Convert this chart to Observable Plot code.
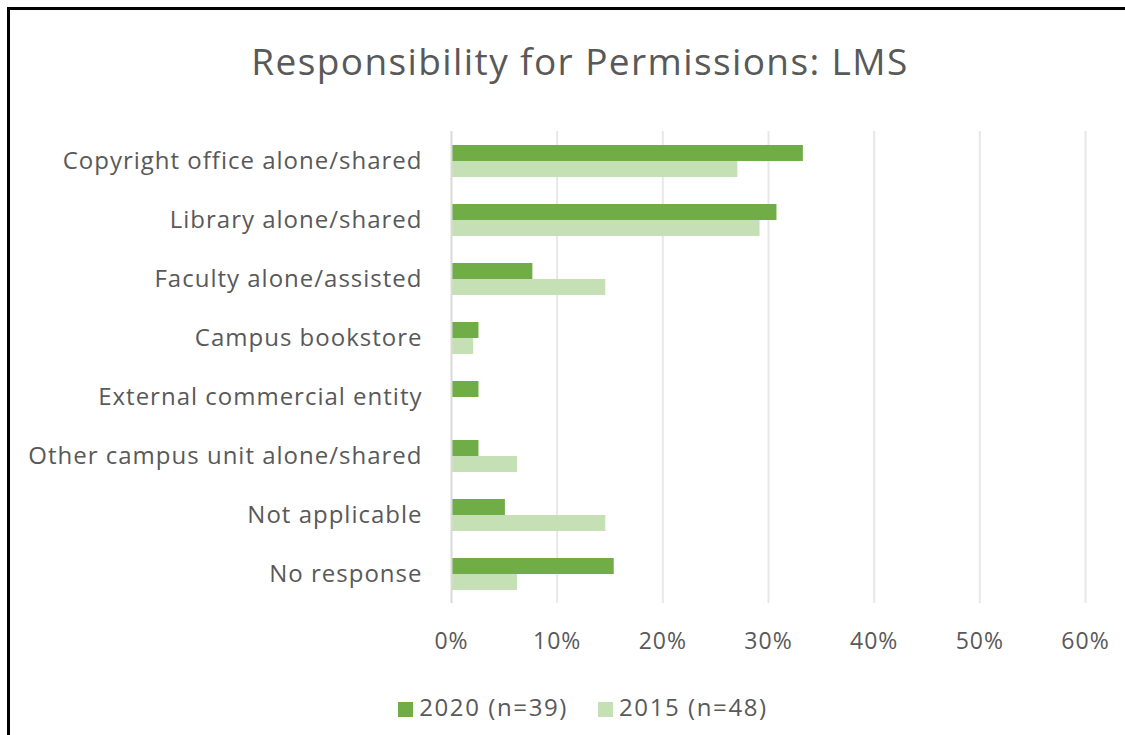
<!DOCTYPE html>
<html>
<head>
<meta charset="utf-8">
<script src="https://cdn.jsdelivr.net/npm/d3@7"></script>
<script src="https://cdn.jsdelivr.net/npm/@observablehq/plot@0.6"></script>
<style>
  html, body { margin: 0; padding: 0; background: #fff; }
  #wrap { position: relative; width: 1125px; height: 735px; overflow: hidden; background: #fff; font-family: "Open Sans", sans-serif; }
  #frame { position: absolute; left: 7px; top: 7px; width: 1200px; height: 800px; border-top: 3px solid #000; border-left: 3px solid #000; box-sizing: border-box; }
  #title { position: absolute; left: 0; width: 1160px; top: 36px; text-align: center; font-size: 37px; letter-spacing: 1.4px; color: #595959; line-height: 50px; }
  #chart { position: absolute; left: 0; top: 0; }
  #legend { position: absolute; left: 0; width: 1166px; top: 692px; text-align: center; font-size: 24px; letter-spacing: 1.6px; color: #595959; line-height: 30px; }
  .sw { display: inline-block; width: 15px; height: 15px; margin-right: 6px; vertical-align: -1px; }
  .item { display: inline-block; margin: 0 15px; }
  #chart g[aria-label="y-axis tick label"] text { letter-spacing: 1px; }
  #chart g[aria-label="x-axis tick label"] text { letter-spacing: 1px; }
</style>
</head>
<body>
<div id="wrap">
  <div id="frame"></div>
  <div id="title">Responsibility for Permissions: LMS</div>
  <div id="chart"></div>
  <div id="legend"></div>
</div>
<script>
const categories = [
  "Copyright office alone/shared",
  "Library alone/shared",
  "Faculty alone/assisted",
  "Campus bookstore",
  "External commercial entity",
  "Other campus unit alone/shared",
  "Not applicable",
  "No response"
];
const series = ["2020 (n=39)", "2015 (n=48)"];
const values2020 = [0.333, 0.308, 0.077, 0.026, 0.026, 0.026, 0.051, 0.154];
const values2015 = [0.271, 0.292, 0.146, 0.021, 0.0, 0.0625, 0.146, 0.0625];
const xTicks = [0, 0.1, 0.2, 0.3, 0.4, 0.5, 0.6];
const colors = ["#70AD47", "#C5E0B4"];

const rows2020 = categories.map((c, i) => ({category: c, value: values2020[i]}));
const rows2015 = categories.map((c, i) => ({category: c, value: values2015[i]}));

const bandwidth = 59 * (1 - 0.458);

const plot = Plot.plot({
  width: 1125,
  height: 660,
  marginLeft: 451,
  marginRight: 40,
  marginTop: 131,
  marginBottom: 57,
  style: {fontFamily: "Open Sans, sans-serif", color: "#595959", background: "transparent"},
  x: {domain: [0, 0.6], ticks: xTicks, tickFormat: d3.format(".0%")},
  y: {domain: categories, paddingInner: 0.458, paddingOuter: 0.229},
  marks: [
    Plot.ruleX(xTicks.slice(1), {stroke: "#e8e8e8", strokeWidth: 2}),
    Plot.barX(rows2020, {y: "category", x: "value", fill: colors[0], insetBottom: bandwidth / 2}),
    Plot.barX(rows2015, {y: "category", x: "value", fill: colors[1], insetTop: bandwidth / 2}),
    Plot.ruleX([0], {stroke: "#d9d9d9", strokeWidth: 2}),
    Plot.axisX({ticks: xTicks, tickFormat: d3.format(".0%"), tickSize: 0, tickPadding: 29, fontSize: 23, fill: "#595959", label: null}),
    Plot.axisY({tickSize: 0, tickPadding: 29, fontSize: 24, fill: "#595959", label: null})
  ]
});
document.getElementById("chart").appendChild(plot);

const legend = document.getElementById("legend");
series.forEach((s, i) => {
  const item = document.createElement("span");
  item.className = "item";
  const sw = document.createElement("span");
  sw.className = "sw";
  sw.style.background = colors[i];
  item.appendChild(sw);
  item.appendChild(document.createTextNode(s));
  legend.appendChild(item);
});
</script>
</body>
</html>
